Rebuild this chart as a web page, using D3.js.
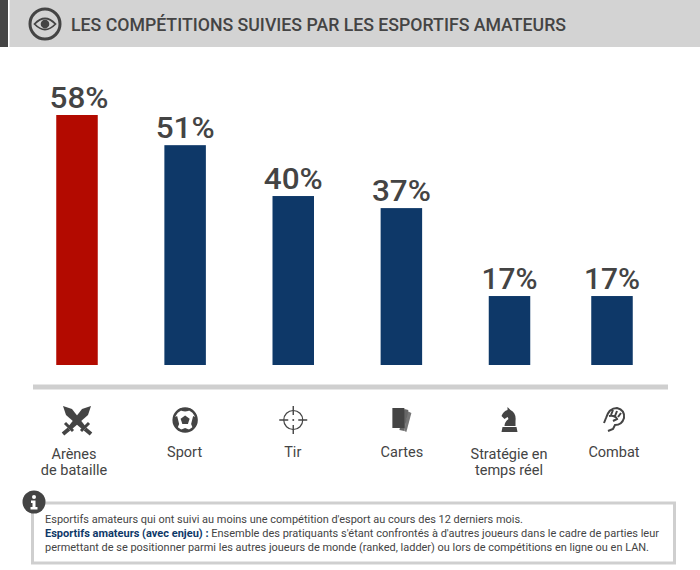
<!DOCTYPE html>
<html>
<head>
<meta charset="utf-8">
<script src="https://cdn.jsdelivr.net/npm/d3@7"></script>
<style>
html, body { margin: 0; padding: 0; background: #fff; }
svg { display: block; }
text { font-family: Roboto, sans-serif; fill: #444; }
</style>
</head>
<body>
<script>
var categories = ["Arènes|de bataille", "Sport", "Tir", "Cartes", "Stratégie en|temps réel", "Combat"];
var percentLabels = ["58%", "51%", "40%", "37%", "17%", "17%"];
// bar lengths, they are not quite in line with the labels
var barValues = [58, 51, 39.2, 36.4, 16, 16];
var barColors = ["#b30a00", "#0e3868", "#0e3868", "#0e3868", "#0e3868", "#0e3868"];
var iconNames = ["swords", "ball", "target", "cards", "knight", "fist"];
var titleText = "LES COMPÉTITIONS SUIVIES PAR LES ESPORTIFS AMATEURS";
var noteLine1 = "Esportifs amateurs qui ont suivi au moins une compétition d'esport au cours des 12 derniers mois.";
var noteBold = "Esportifs amateurs (avec enjeu) : ";
var noteLine2 = "Ensemble des pratiquants s'étant confrontés à d'autres joueurs dans le cadre de parties leur";
var noteLine3 = "permettant de se positionner parmi les autres joueurs de monde (ranked, ladder) ou lors de compétitions en ligne ou en LAN.";

var width = 700;
var height = 570;
var dark = "#444";
var grey = "#cfcfcf";

var svg = d3.select("body").append("svg").attr("width", width).attr("height", height);

// last column sits a little closer than the others
var x = d3.scaleLinear().domain([0, 4, 5]).range([77, 509.5, 612]);
var y = d3.scaleLinear().domain([0, 58]).range([365, 115]);
var barW = 41.5;

// header
svg.append("rect").attr("width", width).attr("height", 47).attr("fill", "#d3d3d3");
svg.append("rect").attr("width", 8).attr("height", 47).attr("fill", dark);
svg.append("rect").attr("x", 8).attr("width", 1.5).attr("height", 47).attr("fill", "#fff");

var eye = svg.append("g").attr("transform", "translate(45,24)");
eye.append("circle").attr("r", 15).attr("fill", "none").attr("stroke", dark).attr("stroke-width", 3);
eye.append("path").attr("d", "M-10.5,0Q0,-11 10.5,0Q0,11 -10.5,0Z").attr("fill", "none").attr("stroke", dark).attr("stroke-width", 1.8);
eye.append("circle").attr("r", 4.3).attr("fill", dark);

svg.append("text").attr("x", 71).attr("y", 31)
    .attr("textLength", 495).attr("lengthAdjust", "spacingAndGlyphs")
    .style("font-size", "18px").style("font-weight", 500)
    .text(titleText);

// bars
svg.selectAll(".bar").data(barValues).enter().append("rect")
    .attr("class", "bar")
    .attr("x", function (d, i) { return x(i) - barW / 2; })
    .attr("y", function (d) { return y(d); })
    .attr("width", barW)
    .attr("height", function (d) { return y(0) - y(d); })
    .attr("fill", function (d, i) { return barColors[i]; });

svg.selectAll(".pct").data(barValues).enter().append("text")
    .attr("class", "pct")
    .attr("x", function (d, i) { return x(i) + (i == 0 ? 2 : 0); })
    .attr("y", function (d) { return y(d) - 7; })
    .attr("text-anchor", "middle")
    .attr("textLength", function (d, i) { return i >= 4 ? 56 : 59; })
    .attr("lengthAdjust", "spacingAndGlyphs")
    .style("font-size", "29px").style("font-weight", 500)
    .text(function (d, i) { return percentLabels[i]; });

// baseline rule
svg.append("rect").attr("x", 33).attr("y", 384.5).attr("width", 635).attr("height", 5).attr("fill", grey);

// icons, drawn round the centre of each column
var icons = {
    swords: function (g) {
        [-1, 1].forEach(function (s) {
            var b = g.append("g").attr("transform", "scale(" + s + ",1)");
            b.append("path").attr("d", "M14,-14L11,-5L-6,10L-9,7L5,-11Z").attr("fill", dark);
            b.append("path").attr("d", "M-12,3L-4,11").attr("stroke", dark).attr("stroke-width", 3).attr("fill", "none");
            b.append("path").attr("d", "M-8,9L-14,14").attr("stroke", dark).attr("stroke-width", 4).attr("fill", "none");
        });
    },
    ball: function (g) {
        g.append("circle").attr("r", 11.5).attr("fill", "none").attr("stroke", dark).attr("stroke-width", 2.4);
        g.append("path").attr("d", "M0,-4.5L4.5,-1.2L2.8,4L-2.8,4L-4.5,-1.2Z").attr("fill", dark);
        g.append("path").attr("d", "M-6,-11Q0,-6 6,-11L4,-12L-4,-12Z").attr("fill", dark);
        g.append("path").attr("d", "M-12,-2L-8,-4L-6,4L-8,9Q-12,5 -12,-2Z").attr("fill", dark);
        g.append("path").attr("d", "M12,-2L8,-4L6,4L8,9Q12,5 12,-2Z").attr("fill", dark);
        g.append("path").attr("d", "M-5,10L0,8L5,10L0,12Z").attr("fill", dark);
    },
    target: function (g) {
        g.append("circle").attr("r", 9.5).attr("fill", "none").attr("stroke", dark).attr("stroke-width", 1.2);
        g.append("path").attr("d", "M0,-14V-5M0,5V14M-14,0H-5M5,0H14").attr("stroke", dark).attr("stroke-width", 1.4);
        g.append("circle").attr("r", 1).attr("fill", dark);
    },
    cards: function (g) {
        g.append("path").attr("d", "M6,-9L10,-7L5,12L3,11Z").attr("fill", "#777");
        g.append("path").attr("d", "M3,-11L7,-10L3,11L-2,10Z").attr("fill", "#666");
        g.append("rect").attr("x", -9).attr("y", -12).attr("width", 12).attr("height", 20).attr("fill", dark);
    },
    knight: function (g) {
        g.append("path").attr("d", "M-2,-13L1,-10Q7,-7 6,1L6,6H-5Q-5,2 -1,-1L-2,-3L-5,-1L-8,-4Q-6,-9 -2,-10ZM-7,7H7L8,12H-8Z").attr("fill", dark);
    },
    fist: function (g) {
        g.append("path").attr("d", "M-8,-2Q-5,-12 3,-12Q11,-10 10,-2Q8,5 1,5L-1,9L-6,11M-10,3L-8,-2M-1,-10L-3,-5M3,-9L1,-4M7,-7L4,-3M-5,-4Q1,-5 3,-1L-1,1")
            .attr("fill", "none").attr("stroke", dark).attr("stroke-width", 2);
    }
};
svg.selectAll(".icon").data(iconNames).enter().append("g")
    .attr("class", "icon")
    .attr("transform", function (d, i) { return "translate(" + (x(i) + (i == 5 ? 2 : 0)) + ",420)"; })
    .each(function (d) { icons[d](d3.select(this)); });

// category labels
var labelDx = [-3, -0.5, -0.5, 0.5, -0.5, 2];
var labels = svg.selectAll(".cat").data(categories).enter().append("text")
    .attr("class", "cat")
    .attr("text-anchor", "middle")
    .style("font-size", "14.5px");
labels.each(function (d, i) {
    var parts = d.split("|");
    var t = d3.select(this);
    parts.forEach(function (p, j) {
        t.append("tspan")
            .attr("x", x(i) + labelDx[i])
            .attr("y", (parts.length > 1 ? 459 : 457) + j * 16)
            .text(p);
    });
});

// note box
svg.append("rect").attr("x", 32.5).attr("y", 503).attr("width", 642).attr("height", 60)
    .attr("fill", "none").attr("stroke", grey).attr("stroke-width", 3);

var info = svg.append("g").attr("transform", "translate(34,502)");
info.append("circle").attr("r", 11.5).attr("fill", dark);
info.append("circle").attr("cy", -5).attr("r", 2).attr("fill", "#fff");
info.append("path").attr("d", "M-3,-1.5H1.5V5H3.5V7.5H-3.5V5H-1.5V1H-3Z").attr("fill", "#fff");

var noteSize = "10.6px";
svg.append("text").attr("x", 45).attr("y", 522.5).style("font-size", noteSize)
    .attr("textLength", 478).attr("lengthAdjust", "spacingAndGlyphs").text(noteLine1);
var second = svg.append("text").attr("x", 45).attr("y", 537).style("font-size", noteSize)
    .attr("textLength", 614).attr("lengthAdjust", "spacingAndGlyphs");
second.append("tspan").style("font-weight", 700).style("fill", "#0e3868").text(noteBold);
second.append("tspan").text(noteLine2);
svg.append("text").attr("x", 45).attr("y", 551).style("font-size", noteSize)
    .attr("textLength", 604).attr("lengthAdjust", "spacingAndGlyphs").text(noteLine3);
</script>
</body>
</html>
